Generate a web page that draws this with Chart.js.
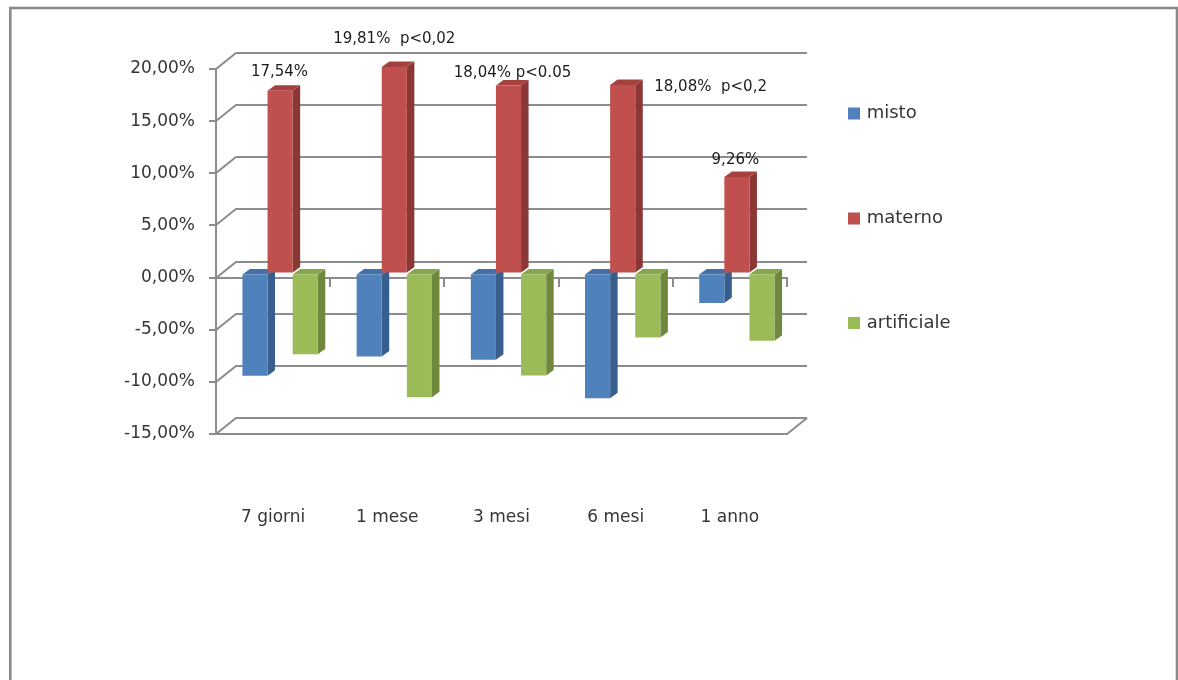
<!DOCTYPE html>
<html>
<head>
<meta charset="utf-8">
<script src="https://cdn.jsdelivr.net/npm/chart.js@4.4.1/dist/chart.umd.min.js"></script>
<style>
  html, body { margin: 0; padding: 0; background: #ffffff; }
  #wrap { width: 1178px; height: 680px; }
</style>
</head>
<body>
<div id="wrap"><canvas id="chart" width="1178" height="680"></canvas></div>
<script>
// Time points
const categories = ['7 giorni', '1 mese', '3 mesi', '6 mesi', '1 anno'];

// Percentage differences per feeding type
const misto = [-9.80, -7.95, -8.26, -11.95, -2.82];
const materno = [17.54, 19.81, 18.04, 18.08, 9.26];
const artificiale = [-7.74, -11.86, -9.78, -6.13, -6.44];

const seriesNames = ['misto', 'materno', 'artificiale'];

// Value axis range and step
const yMin = -15;
const yMax = 20;
const yStep = 5;

// Significance notes appended to the "materno" value labels
const maternoNotes = ['', '  p<0,02', ' p<0.05', '  p<0,2', ''];

// ---- styling / layout ----
const FRONT = ['#4F81BD', '#C0504D', '#9BBB59'];
const SIDE  = ['#375E8D', '#8A3735', '#6F883E'];
const TOP   = ['#4370A8', '#A5423F', '#87A64D'];
const GRID = '#8c8c8c';
const TEXT = '#363636';
const WALL = { dx: 20, dy: -16 };      // depth of the back wall
const BAR_SHIFT = { dx: 7, dy: -4 };   // bars sit a little behind the front plane
const BAR_DEPTH = { dx: 7.5, dy: -5.5 };
// value label placement relative to the top of each "materno" bar
const LABEL_OFFSETS = [
  { dx: -0.6, dy: -14.4, align: 'center' },
  { dx: 0, dy: -24.1, align: 'center' },
  { dx: 4, dy: -8.1, align: 'center' },
  { dx: 19, dy: 5.6, align: 'left' },
  { dx: -1.5, dy: -13.4, align: 'center' }
];
const LEGEND = { x: 848, box: 12, textX: 866.7, rows: [113.5, 218.5, 323] };

function pct(v) {
  return v.toFixed(2).replace('.', ',') + '%';
}

const depthPlugin = {
  id: 'depth3d',
  beforeDraw(chart) {
    const ctx = chart.ctx;
    ctx.save();
    ctx.fillStyle = '#ffffff';
    ctx.fillRect(0, 0, chart.width, chart.height);
    ctx.strokeStyle = '#8a8a8a';
    ctx.lineWidth = 2.6;
    ctx.strokeRect(10.3, 8, 1166.7, 720);
    ctx.restore();
  },
  beforeDatasetsDraw(chart) {
    const ctx = chart.ctx;
    const y = chart.scales.y;
    const area = chart.chartArea;

    // back wall grid lines with their diagonals on the side wall
    ctx.save();
    ctx.strokeStyle = GRID;
    ctx.lineWidth = 2;
    y.ticks.forEach(t => {
      const p = Math.round(y.getPixelForValue(t.value));
      ctx.beginPath();
      ctx.moveTo(area.left, p);
      ctx.lineTo(area.left + WALL.dx, p + WALL.dy);
      ctx.lineTo(area.right + WALL.dx, p + WALL.dy);
      ctx.stroke();
    });
    // floor right edge
    const pb = Math.round(y.getPixelForValue(yMin));
    ctx.beginPath();
    ctx.moveTo(area.right, pb);
    ctx.lineTo(area.right + WALL.dx, pb + WALL.dy);
    ctx.stroke();
    ctx.restore();

    // bars: shift, then side and top faces; front faces drawn by Chart.js
    ctx.save();
    ctx.translate(BAR_SHIFT.dx, BAR_SHIFT.dy);
    for (let i = 0; i < categories.length; i++) {
      for (let d = 0; d < chart.data.datasets.length; d++) {
        const el = chart.getDatasetMeta(d).data[i];
        if (!el) continue;
        const left = el.x - el.width / 2;
        const right = el.x + el.width / 2;
        const top = Math.min(el.y, el.base);
        const bottom = Math.max(el.y, el.base);
        ctx.fillStyle = SIDE[d];
        ctx.beginPath();
        ctx.moveTo(right, top);
        ctx.lineTo(right + BAR_DEPTH.dx, top + BAR_DEPTH.dy);
        ctx.lineTo(right + BAR_DEPTH.dx, bottom + BAR_DEPTH.dy);
        ctx.lineTo(right, bottom);
        ctx.closePath();
        ctx.fill();
        ctx.fillStyle = TOP[d];
        ctx.beginPath();
        ctx.moveTo(left, top);
        ctx.lineTo(left + BAR_DEPTH.dx, top + BAR_DEPTH.dy);
        ctx.lineTo(right + BAR_DEPTH.dx, top + BAR_DEPTH.dy);
        ctx.lineTo(right, top);
        ctx.closePath();
        ctx.fill();
      }
    }
  },
  afterDatasetsDraw(chart) {
    const ctx = chart.ctx;
    ctx.restore();

    // value labels over the "materno" bars
    const meta = chart.getDatasetMeta(1);
    ctx.save();
    ctx.fillStyle = '#1c1c1c';
    ctx.font = '15px "DejaVu Sans"';
    ctx.textBaseline = 'alphabetic';
    meta.data.forEach((el, i) => {
      const off = LABEL_OFFSETS[i];
      const txt = pct(materno[i]) + maternoNotes[i];
      const bx = el.x + BAR_SHIFT.dx;
      const by = el.y + BAR_SHIFT.dy;
      ctx.textAlign = off.align;
      const x = off.align === 'left' ? bx + el.width / 2 + off.dx : bx + off.dx;
      ctx.fillText(txt, x, by + off.dy);
    });
    ctx.restore();
  },
  afterDraw(chart) {
    // legend on the right, one entry per series
    const ctx = chart.ctx;
    ctx.save();
    ctx.font = '18px "DejaVu Sans"';
    ctx.textBaseline = 'middle';
    ctx.textAlign = 'left';
    chart.data.datasets.forEach((ds, d) => {
      const yc = LEGEND.rows[d];
      ctx.fillStyle = FRONT[d];
      ctx.fillRect(LEGEND.x, yc - LEGEND.box / 2, LEGEND.box, LEGEND.box);
      ctx.fillStyle = TEXT;
      ctx.fillText(ds.label, LEGEND.textX, yc);
    });
    ctx.restore();
  }
};

const axisFont = { family: 'DejaVu Sans', size: 17 };

new Chart(document.getElementById('chart'), {
  type: 'bar',
  data: {
    labels: categories,
    datasets: [
      { label: seriesNames[0], data: misto, backgroundColor: FRONT[0], xAxisID: 'x' },
      { label: seriesNames[1], data: materno, backgroundColor: FRONT[1], xAxisID: 'x' },
      { label: seriesNames[2], data: artificiale, backgroundColor: FRONT[2], xAxisID: 'x' }
    ]
  },
  options: {
    responsive: false,
    animation: false,
    devicePixelRatio: 1,
    layout: { padding: { left: 10, top: 69, right: 391, bottom: 146 } },
    datasets: {
      bar: { categoryPercentage: 0.66, barPercentage: 1, borderWidth: 0, clip: false }
    },
    plugins: {
      legend: { display: false },
      tooltip: { enabled: false }
    },
    scales: {
      x: {
        type: 'category',
        position: 'bottom',
        offset: true,
        grid: { drawOnChartArea: false, drawTicks: false, offset: true },
        border: { display: true, color: GRID, width: 2 },
        ticks: { padding: 73, color: TEXT, font: axisFont, maxRotation: 0 },
        afterFit(scale) { scale.height = 100; }
      },
      x0: {
        type: 'category',
        position: { y: 0 },
        offset: true,
        grid: { drawOnChartArea: false, drawTicks: true, tickLength: 8, offset: true, color: GRID, lineWidth: 2 },
        border: { display: true, color: GRID, width: 2 },
        ticks: { display: false }
      },
      y: {
        min: yMin,
        max: yMax,
        ticks: { stepSize: yStep, padding: 14, color: TEXT, font: axisFont, callback: v => pct(v) },
        grid: { drawOnChartArea: false, tickLength: 7, color: GRID, lineWidth: 2 },
        border: { display: true, color: GRID, width: 2 },
        afterFit(scale) { scale.width = 206; }
      }
    }
  },
  plugins: [depthPlugin]
});
</script>
</body>
</html>
